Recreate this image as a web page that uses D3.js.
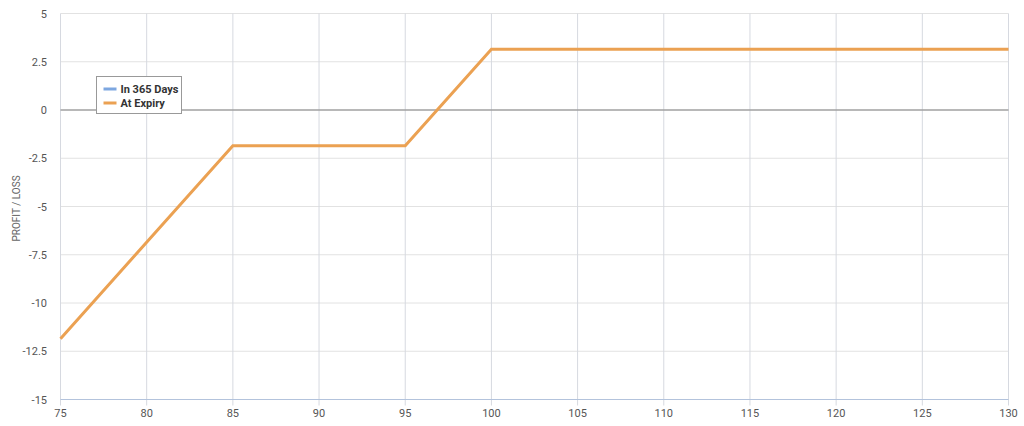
<!DOCTYPE html>
<html><head><meta charset="utf-8">
<script src="https://cdn.jsdelivr.net/npm/d3@7"></script>
<style>body{margin:0;background:#fff;}svg{display:block;font-family:"Liberation Sans Narrow","Roboto",sans-serif;}</style>
</head><body><svg id="c" width="1024" height="426"></svg>
<script>
const xTicks = [75,80,85,90,95,100,105,110,115,120,125,130];
const yTicks = [-15,-12.5,-10,-7.5,-5,-2.5,0,2.5,5];
const seriesNames = ["In 365 Days","At Expiry"];
const seriesColors = ["#7da7e0","#eba152"];
const expiryPrices = [75,85,95,100,130];
const expiryPL = [-11.85,-1.85,-1.85,3.15,3.15];
const in365Prices = [];
const in365PL = [];

const svg = d3.select("#c");
const x = d3.scaleLinear().domain([75,130]).range([60.5,1008.5]);
const y = d3.scaleLinear().domain([-15,5]).range([399.5,13.5]);

const g = svg.append("g");
// horizontal grid
g.selectAll(".hg").data(yTicks.filter(d=>d!==-15 && d!==0)).enter().append("line")
 .attr("x1",x(75)).attr("x2",x(130)).attr("y1",d=>y(d)).attr("y2",d=>y(d))
 .attr("stroke","#e2e2e2").attr("stroke-width",1);
// vertical grid
g.selectAll(".vg").data(xTicks).enter().append("line")
 .attr("x1",d=>x(d)).attr("x2",d=>x(d)).attr("y1",y(5)).attr("y2",y(-15)+6)
 .attr("stroke","#d6d9e0").attr("stroke-width",1);
// zero line
g.append("line").attr("x1",x(75)).attr("x2",x(130)).attr("y1",y(0)).attr("y2",y(0))
 .attr("stroke","#a0a0a0").attr("stroke-width",1.5);
// bottom axis line
g.append("line").attr("x1",x(75)).attr("x2",x(130)).attr("y1",y(-15)).attr("y2",y(-15))
 .attr("stroke","#b3c3dc").attr("stroke-width",1);

// y labels
g.selectAll(".yl").data(yTicks).enter().append("text")
 .attr("x",47).attr("y",d=>y(d)+4).attr("text-anchor","end")
 .attr("font-size",11).attr("fill","#555").text(d=>d);
// x labels
g.selectAll(".xl").data(xTicks).enter().append("text")
 .attr("x",d=>x(d)).attr("y",417).attr("text-anchor","middle")
 .attr("font-size",11).attr("fill","#555").text(d=>d);
// y title
svg.append("text").attr("transform","translate(20,"+(y(-5)+2)+") rotate(-90)")
 .attr("text-anchor","middle").attr("font-size",10).attr("fill","#666").text("PROFIT / LOSS");

const line = d3.line().x(d=>x(d[0])).y(d=>y(d[1]));
g.append("path").datum(in365Prices.map((p,i)=>[p,in365PL[i]]))
 .attr("d",line).attr("fill","none").attr("stroke",seriesColors[0]).attr("stroke-width",3);
g.append("path").datum(expiryPrices.map((p,i)=>[p,expiryPL[i]]))
 .attr("d",line).attr("fill","none").attr("stroke",seriesColors[1]).attr("stroke-width",3);

// legend
const lg = svg.append("g").attr("transform","translate(96.5,76.5)");
lg.append("rect").attr("width",85).attr("height",37).attr("fill","#fff").attr("stroke","#999").attr("stroke-width",1);
seriesNames.forEach((n,i)=>{
  lg.append("line").attr("x1",7).attr("x2",20).attr("y1",12.5+i*14).attr("y2",12.5+i*14)
    .attr("stroke",seriesColors[i]).attr("stroke-width",3);
  lg.append("text").attr("x",24).attr("y",16.5+i*14).attr("font-size",11).attr("font-weight","bold")
    .attr("fill","#333").text(n);
});
</script></body></html>
